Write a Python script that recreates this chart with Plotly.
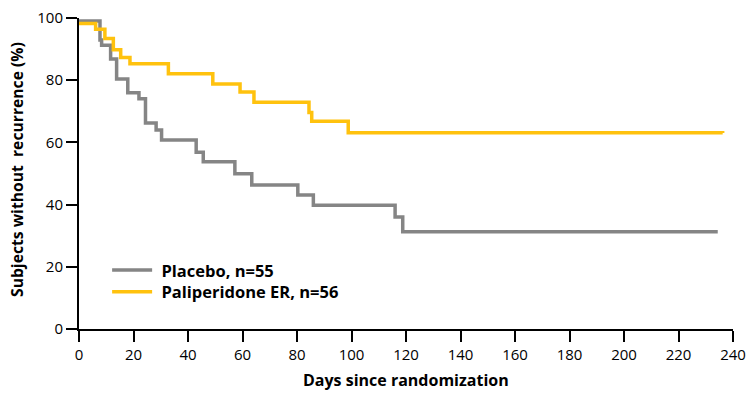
import plotly.graph_objects as go

# Kaplan-Meier step data
placebo_days = [0, 7.7, 8.3, 11.6, 13.8, 17.9, 22.0, 24.4, 28.3, 30.3, 43.0, 45.6, 57.2, 63.4, 80.3, 86.0, 116.0, 118.8, 234.4]
placebo_surv = [99.0, 92.9, 91.2, 86.8, 80.4, 76.0, 74.0, 66.2, 64.0, 60.8, 56.8, 53.8, 49.9, 46.3, 43.1, 39.8, 36.0, 31.3, 31.3]

pali_days = [0, 6.1, 9.5, 12.6, 15.3, 18.7, 32.8, 49.1, 59.1, 64.2, 84.4, 85.4, 98.8, 236.2]
pali_surv = [98.2, 96.4, 93.4, 89.8, 87.3, 85.3, 82.1, 78.8, 76.2, 72.9, 69.6, 66.8, 63.1, 63.0]

series_names = ["Placebo, n=55", "Paliperidone ER, n=56"]
series_colors = ["#858585", "#FFC20E"]

x_ticks = list(range(0, 241, 20))
y_ticks = [0, 20, 40, 60, 80, 100]

fig = go.Figure()
fig.add_trace(go.Scatter(x=placebo_days, y=placebo_surv, mode="lines", line_shape="hv",
                         name="\u00a0" + series_names[0], legend="legend",
                         line=dict(color=series_colors[0], width=3.5)))
fig.add_trace(go.Scatter(x=pali_days, y=pali_surv, mode="lines", line_shape="hv",
                         name="\u00a0" + series_names[1], legend="legend2",
                         line=dict(color=series_colors[1], width=3.5)))

W, H = 748, 393
L, R, T, B = 79, 15, 17.5, 63.5
PW, PH = W - L - R, H - T - B
tick_font = dict(family="Open Sans", size=15, color="black")
legend_font = dict(family="Open Sans", size=16.5, color="black", weight="bold")
legend_common = dict(x=0.043, xanchor="left", yanchor="middle",
                     bgcolor="rgba(0,0,0,0)", itemwidth=40, font=legend_font)
fig.update_layout(
    width=W, height=H,
    margin=dict(l=L, r=R, t=T, b=B, autoexpand=False),
    plot_bgcolor="white", paper_bgcolor="white",
    showlegend=True,
    legend=dict(y=(329.5 - 270.7) / PH, **legend_common),
    legend2=dict(y=(329.5 - 292.3) / PH, **legend_common),
    xaxis=dict(range=[0, 240], tickvals=x_ticks, showgrid=False, zeroline=False,
               showline=True, linecolor="black", linewidth=2, automargin=False,
               ticks="outside", ticklen=11, tickwidth=2, tickcolor="black",
               ticklabeloverflow="allow", tickfont=tick_font),
    yaxis=dict(range=[0, 100], tickvals=y_ticks, showgrid=False, zeroline=False,
               showline=True, linecolor="black", linewidth=2, automargin=False,
               ticks="outside", ticklen=11, tickwidth=2, tickcolor="black",
               ticklabeloverflow="allow", tickfont=tick_font),
    annotations=[
        dict(text="Days since randomization", xref="paper", yref="paper",
             x=0.5, y=(329.5 - 381) / PH, xanchor="center", yanchor="middle", showarrow=False,
             font=dict(family="Open Sans", size=16, color="black", weight="bold")),
        dict(text="Subjects without\u00a0 recurrence (%)", xref="paper", yref="paper",
             x=(17 - L) / PW, y=(329.5 - 170) / PH, xanchor="center", yanchor="middle",
             textangle=-90, showarrow=False,
             font=dict(family="Open Sans", size=15.7, color="black", weight="bold")),
    ],
)

fig.write_html("out.html", config={"displayModeBar": False},
               post_script="document.body.style.margin='0';document.body.style.overflow='hidden';")
